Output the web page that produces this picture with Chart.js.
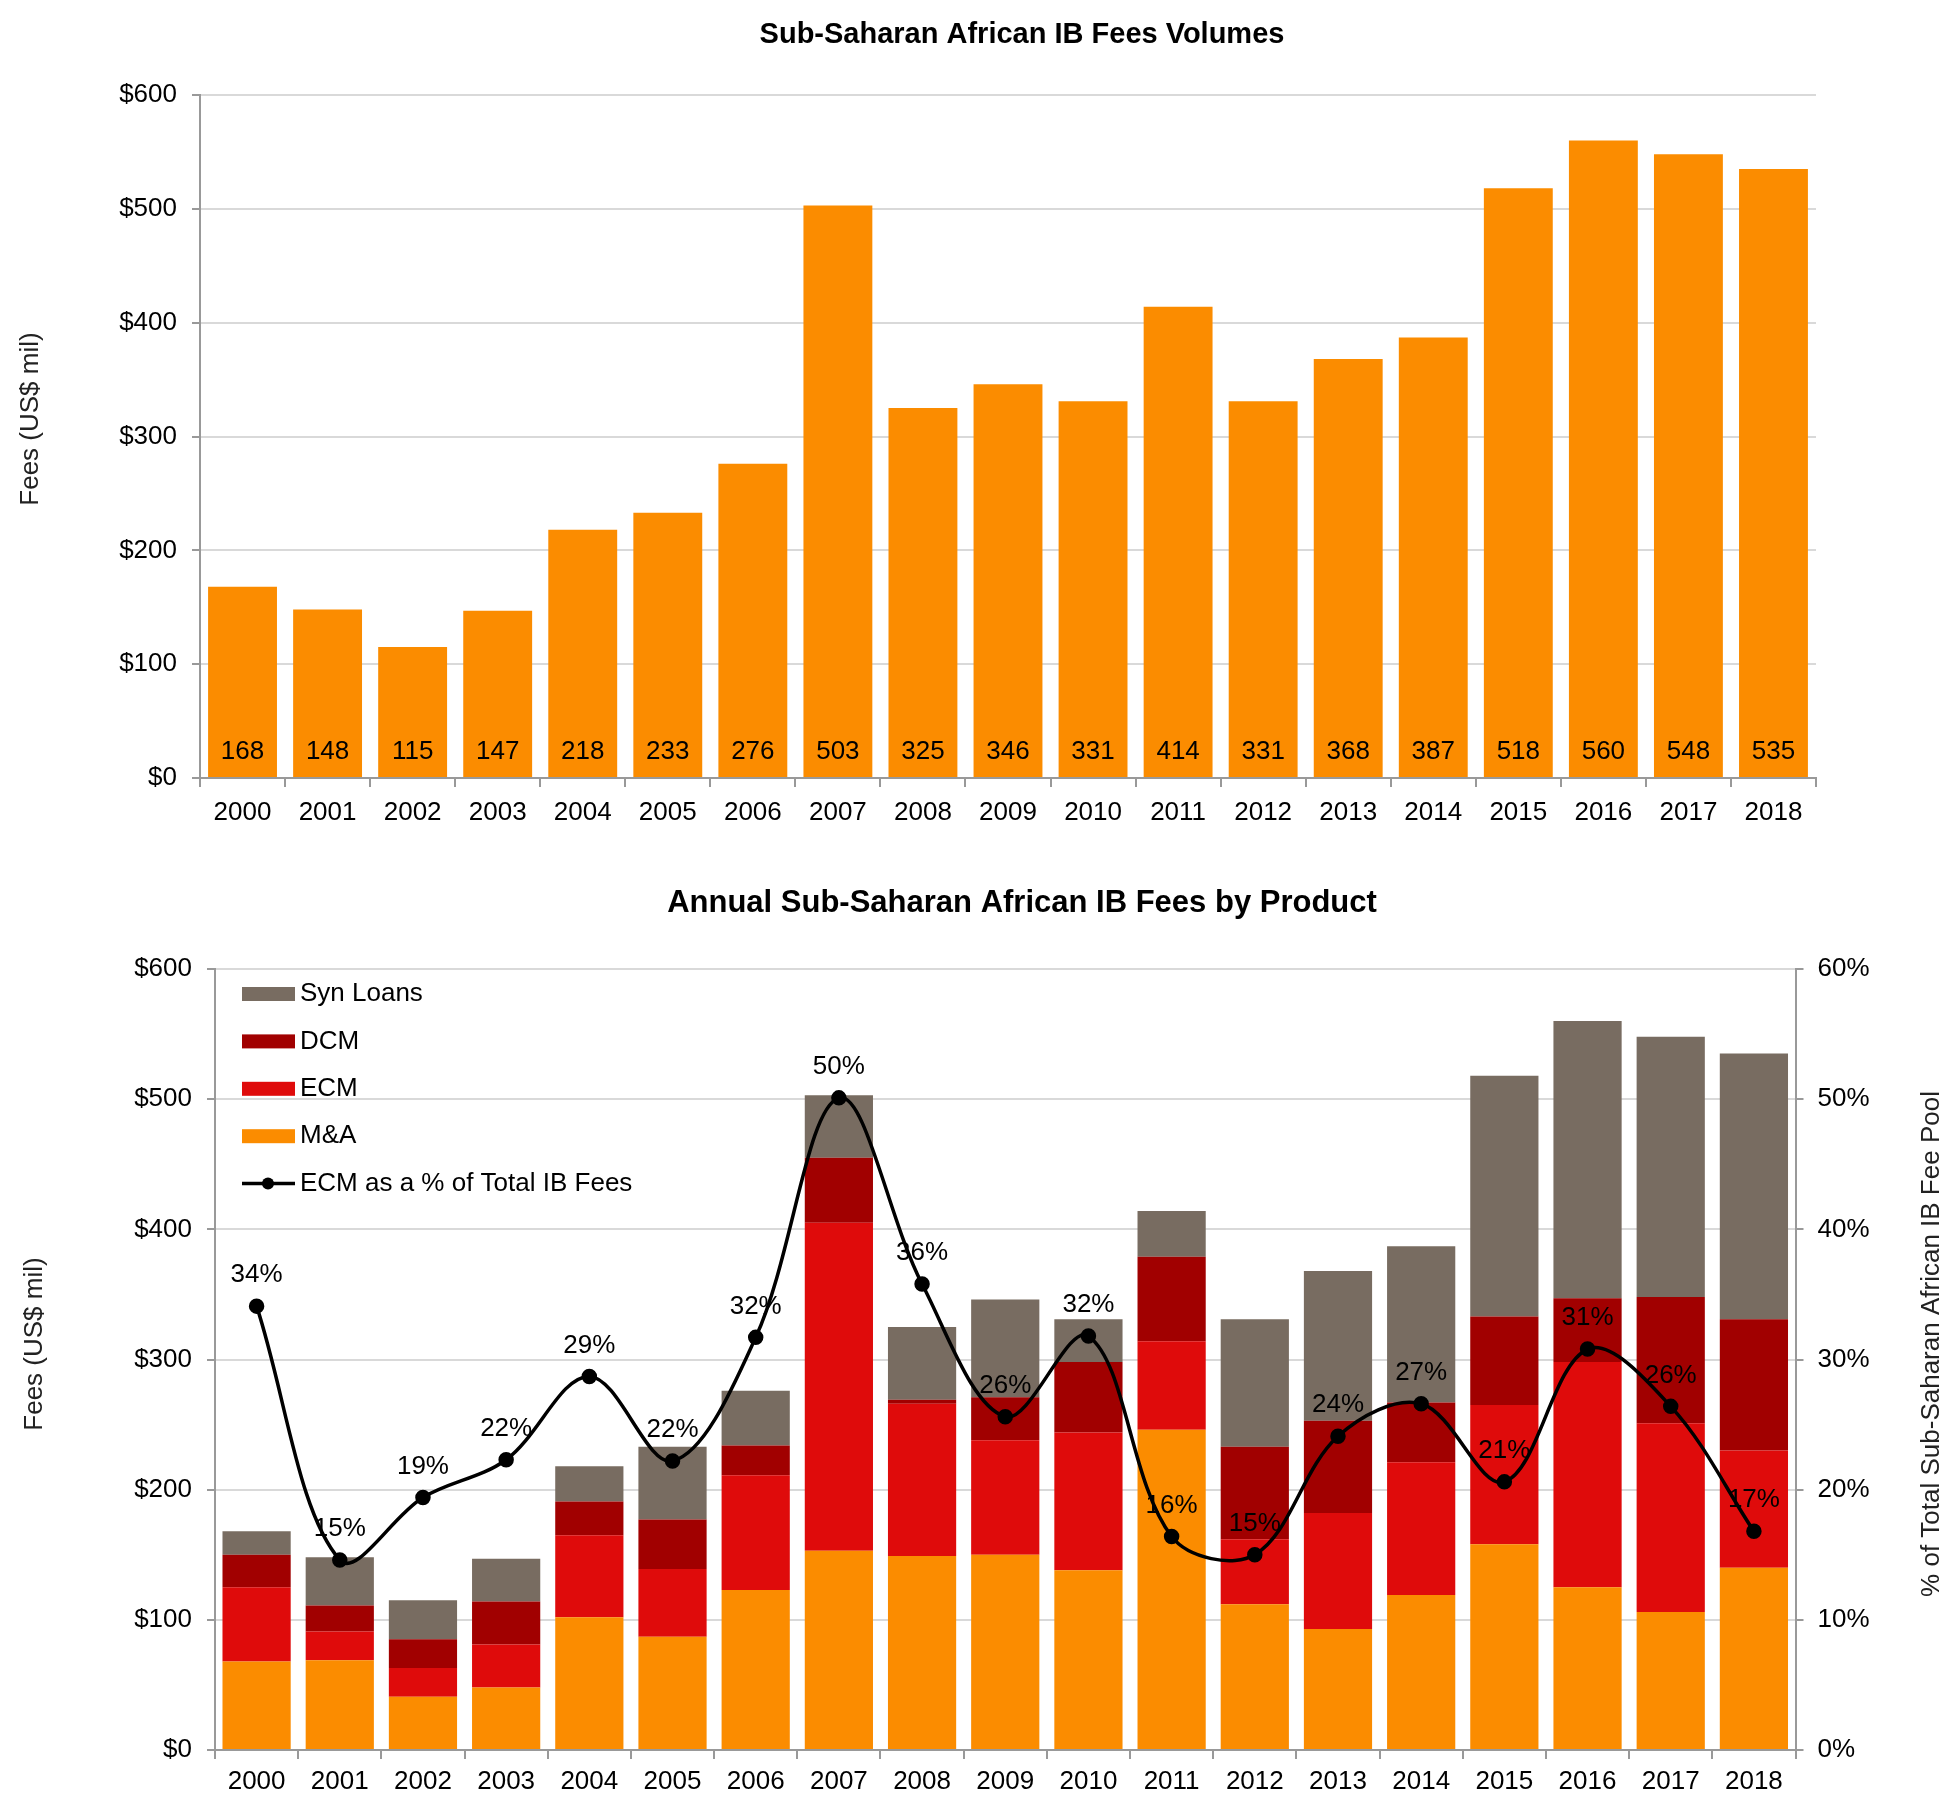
<!DOCTYPE html>
<html>
<head>
<meta charset="utf-8">
<title>Sub-Saharan African IB Fees</title>
<script src="https://cdn.jsdelivr.net/npm/chart.js@4.4.1/dist/chart.umd.min.js"></script>
<style>
  html, body { margin: 0; padding: 0; background: #fff; }
  body { width: 1943px; height: 1793px; position: relative; overflow: hidden; }
  canvas { position: absolute; left: 0; }
  #volChart { top: 0; }
  #productChart { top: 860px; }
</style>
</head>
<body>
<canvas id="volChart" width="1943" height="850"></canvas>
<canvas id="productChart" width="1943" height="933"></canvas>
<script>
// data (US$ mil)
const years = ['2000', '2001', '2002', '2003', '2004', '2005', '2006', '2007', '2008', '2009',
  '2010', '2011', '2012', '2013', '2014', '2015', '2016', '2017', '2018'];
const totalFees = [168, 148, 115, 147, 218, 233, 276, 503, 325, 346, 331, 414, 331, 368, 387, 518, 560, 548, 535];
const maFees = [68, 69, 41, 48, 102, 87, 123, 153, 149, 150, 138, 246, 112, 93, 119, 158, 125, 106, 140];
const ecmFees = [57, 22, 22, 33, 63, 52, 88, 252, 117, 88, 106, 68, 50, 89, 102, 107, 173, 145, 90];
const dcmFees = [25, 20, 22, 33, 26, 38, 23, 50, 3, 33, 54, 65, 71, 71, 46, 68, 49, 97, 101];
const synFees = [18, 37, 30, 33, 27, 56, 42, 48, 56, 75, 33, 35, 98, 115, 120, 185, 213, 200, 204];
// ECM as % of total IB fees
const ecmShare = [34.1, 14.6, 19.4, 22.3, 28.7, 22.2, 31.7, 50.1, 35.8, 25.6, 31.8, 16.4, 15.0, 24.1, 26.6, 20.6, 30.8, 26.4, 16.8];
const feeTicks = [0, 100, 200, 300, 400, 500, 600];
const shareTicks = [0, 10, 20, 30, 40, 50, 60];

const ORANGE = '#FB8C00';
const RED = '#DF0B0B';
const DARK_RED = '#A10000';
const GREY = '#786C61';
const GRID = '#d9d9d9';
const AXIS = '#999999';
const FONT = '"Liberation Sans", Arial, Helvetica, sans-serif';

Chart.defaults.font.family = FONT;
Chart.defaults.font.size = 26;
Chart.defaults.color = '#000';

// titles drawn by hand so they sit where the original has them
const titlesPlugin = {
  id: 'titles',
  afterDraw(chart, args, opts) {
    const ctx = chart.ctx;
    ctx.save();
    ctx.fillStyle = '#000';
    ctx.textAlign = 'center';
    ctx.textBaseline = 'middle';
    ctx.font = 'bold ' + opts.size + 'px ' + FONT;
    ctx.fillText(opts.text, opts.x, opts.y);
    ctx.font = '26px ' + FONT;
    ctx.fillStyle = '#222';
    (opts.axes || []).forEach(t => {
      ctx.save();
      ctx.translate(t.x, t.y);
      ctx.rotate(-Math.PI / 2);
      ctx.fillText(t.text, 0, 0);
      ctx.restore();
    });
    ctx.restore();
  }
};

const barValuesPlugin = {
  id: 'barValues',
  afterDatasetsDraw(chart) {
    const ctx = chart.ctx;
    const meta = chart.getDatasetMeta(0);
    const base = chart.scales.y.getPixelForValue(0);
    ctx.save();
    ctx.font = '26px ' + FONT;
    ctx.fillStyle = '#000';
    ctx.textAlign = 'center';
    ctx.textBaseline = 'middle';
    meta.data.forEach((bar, i) => {
      ctx.fillText(chart.data.datasets[0].data[i], bar.x, base - 26);
    });
    ctx.restore();
  }
};

const lineLabelsPlugin = {
  id: 'lineLabels',
  afterDatasetsDraw(chart) {
    const ctx = chart.ctx;
    chart.data.datasets.forEach((ds, di) => {
      if (ds.type !== 'line') return;
      const meta = chart.getDatasetMeta(di);
      ctx.save();
      ctx.font = '26px ' + FONT;
      ctx.fillStyle = '#000';
      ctx.textAlign = 'center';
      ctx.textBaseline = 'middle';
      meta.data.forEach((pt, i) => {
        ctx.fillText(Math.round(ds.data[i]) + '%', pt.x, pt.y - 31);
      });
      ctx.restore();
    });
  }
};

const insideLegendPlugin = {
  id: 'insideLegend',
  afterDraw(chart) {
    const {ctx, chartArea} = chart;
    const sets = chart.data.datasets;
    const items = sets.filter(d => d.type === 'bar').reverse()
      .concat(sets.filter(d => d.type === 'line'));
    const x0 = chartArea.left + 27;
    ctx.save();
    ctx.font = '26px ' + FONT;
    ctx.textBaseline = 'middle';
    ctx.textAlign = 'left';
    items.forEach((d, i) => {
      const y = chartArea.top + 25 + i * 47.4;
      if (d.type === 'bar') {
        ctx.fillStyle = d.backgroundColor;
        ctx.fillRect(x0, y - 7, 53, 14);
      } else {
        ctx.strokeStyle = d.borderColor;
        ctx.lineWidth = 3.5;
        ctx.beginPath();
        ctx.moveTo(x0, y);
        ctx.lineTo(x0 + 53, y);
        ctx.stroke();
        ctx.fillStyle = d.borderColor;
        ctx.beginPath();
        ctx.arc(x0 + 26, y, 6, 0, Math.PI * 2);
        ctx.fill();
      }
      ctx.fillStyle = '#000';
      ctx.fillText(d.label, x0 + 58, y);
    });
    ctx.restore();
  }
};

// top chart: total fee volumes
new Chart(document.getElementById('volChart'), {
  type: 'bar',
  data: {
    labels: years,
    datasets: [{
      label: 'IB Fees',
      data: totalFees,
      backgroundColor: ORANGE,
      barPercentage: 0.81,
      categoryPercentage: 1
    }]
  },
  options: {
    responsive: false,
    animation: false,
    layout: { padding: { top: 95, right: 127, left: 0, bottom: 0 } },
    plugins: {
      legend: { display: false },
      tooltip: { enabled: false },
      titles: {
        text: 'Sub-Saharan African IB Fees Volumes', size: 29, x: 1022, y: 35,
        axes: [{ text: 'Fees (US$ mil)', x: 31, y: 419 }]
      }
    },
    scales: {
      x: {
        grid: { drawOnChartArea: false, color: AXIS, lineWidth: 2, tickLength: 9 },
        border: { color: AXIS, width: 2 },
        ticks: { padding: 10 },
        afterFit: s => { s.height = 72; }
      },
      y: {
        min: 0, max: 600,
        afterBuildTicks: s => { s.ticks = feeTicks.map(v => ({ value: v })); },
        ticks: { padding: 15, callback: v => '$' + v },
        grid: { color: GRID, lineWidth: 2, tickLength: 8, tickColor: AXIS },
        border: { color: AXIS, width: 2 },
        afterFit: s => { s.width = 200; }
      }
    }
  },
  plugins: [titlesPlugin, barValuesPlugin]
});

// bottom chart: fees by product with ECM share
new Chart(document.getElementById('productChart'), {
  data: {
    labels: years,
    datasets: [
      { type: 'line', label: 'ECM as a % of Total IB Fees', data: ecmShare, yAxisID: 'y1',
        borderColor: '#000', backgroundColor: '#000', borderWidth: 3.5,
        pointRadius: 6, pointBackgroundColor: '#000', tension: 0.35, order: 0 },
      { type: 'bar', label: 'M&A', data: maFees, backgroundColor: ORANGE, order: 1 },
      { type: 'bar', label: 'ECM', data: ecmFees, backgroundColor: RED, order: 1 },
      { type: 'bar', label: 'DCM', data: dcmFees, backgroundColor: DARK_RED, order: 1 },
      { type: 'bar', label: 'Syn Loans', data: synFees, backgroundColor: GREY, order: 1 }
    ]
  },
  options: {
    responsive: false,
    animation: false,
    layout: { padding: { top: 109, right: 0, left: 0, bottom: 0 } },
    datasets: { bar: { barPercentage: 0.82, categoryPercentage: 1 } },
    plugins: {
      legend: { display: false },
      tooltip: { enabled: false },
      titles: {
        text: 'Annual Sub-Saharan African IB Fees by Product', size: 31, x: 1022, y: 43,
        axes: [
          { text: 'Fees (US$ mil)', x: 35, y: 484 },
          { text: '% of Total Sub-Saharan African IB Fee Pool', x: 1932, y: 484 }
        ]
      }
    },
    scales: {
      x: {
        stacked: true,
        grid: { drawOnChartArea: false, color: AXIS, lineWidth: 2, tickLength: 9 },
        border: { color: AXIS, width: 2 },
        ticks: { padding: 7 },
        afterFit: s => { s.height = 43; }
      },
      y: {
        stacked: true,
        min: 0, max: 600,
        afterBuildTicks: s => { s.ticks = feeTicks.map(v => ({ value: v })); },
        ticks: { padding: 15, callback: v => '$' + v },
        grid: { color: GRID, lineWidth: 2, tickLength: 8, tickColor: AXIS },
        border: { color: AXIS, width: 2 },
        afterFit: s => { s.width = 215; }
      },
      y1: {
        position: 'right',
        min: 0, max: 60,
        afterBuildTicks: s => { s.ticks = shareTicks.map(v => ({ value: v })); },
        ticks: { padding: 14, callback: v => v + '%' },
        grid: { drawOnChartArea: false, color: AXIS, lineWidth: 2, tickLength: 8 },
        border: { color: AXIS, width: 2 },
        afterFit: s => { s.width = 147.5; }
      }
    }
  },
  plugins: [titlesPlugin, lineLabelsPlugin, insideLegendPlugin]
});
</script>
</body>
</html>
